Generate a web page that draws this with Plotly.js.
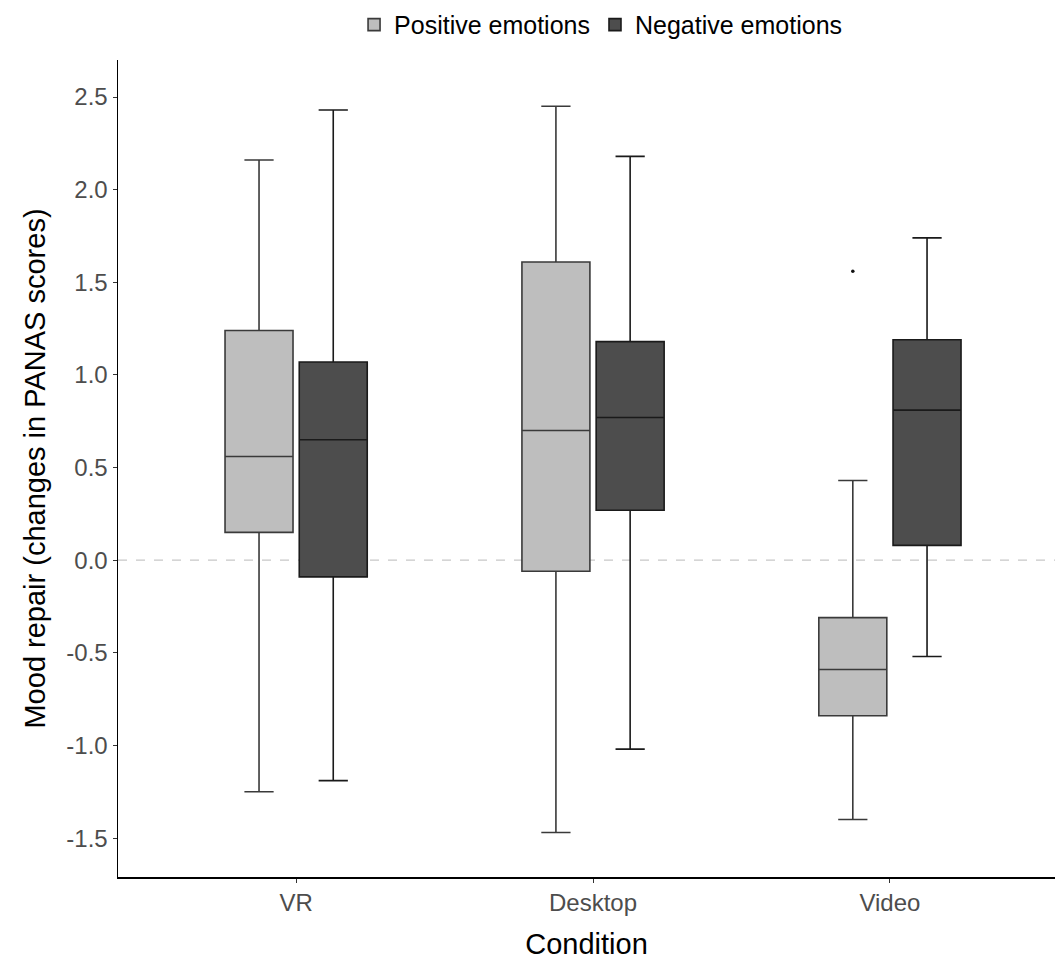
<!DOCTYPE html>
<html>
<head>
<meta charset="utf-8">
<script src="https://cdn.plot.ly/plotly-3.0.1.min.js"></script>
<style>html,body{margin:0;padding:0;background:#fff;}#chart{width:1055px;height:961px;}</style>
</head>
<body>
<div id="chart"></div>
<script>
const categories = ['VR', 'Desktop', 'Video'];
const seriesNames = ['Positive emotions', 'Negative emotions'];

const posQ1 = [0.15, -0.06, -0.84];
const posMedian = [0.56, 0.70, -0.59];
const posQ3 = [1.24, 1.61, -0.31];
const posLower = [-1.25, -1.47, -1.40];
const posUpper = [2.16, 2.45, 0.43];
// outliers of the positive series: category and value
const posOutlierCat = ['Video'];
const posOutlierVal = [1.56];

const negQ1 = [-0.09, 0.27, 0.08];
const negMedian = [0.65, 0.77, 0.81];
const negQ3 = [1.07, 1.18, 1.19];
const negLower = [-1.19, -1.02, -0.52];
const negUpper = [2.43, 2.18, 1.74];

const yTicks = [-1.5, -1.0, -0.5, 0.0, 0.5, 1.0, 1.5, 2.0, 2.5];
const yTickText = ['-1.5', '-1.0', '-0.5', '0.0', '0.5', '1.0', '1.5', '2.0', '2.5'];

const BOXGAP = 0.5;
const XRANGE = [-0.6, 2.556];

function boxTrace(name, q1, med, q3, lo, hi, fill, line) {
  return {
    type: 'box',
    name: name,
    x: categories,
    q1: q1, median: med, q3: q3,
    lowerfence: lo, upperfence: hi,
    boxpoints: false,
    fillcolor: fill,
    line: {color: line, width: 1.6},
    whiskerwidth: 0.43,
    hoverinfo: 'skip'
  };
}

// dodge offset for the first of two grouped boxes
const dodge = -(1 - BOXGAP) / 4;

const data = [
  boxTrace(seriesNames[0], posQ1, posMedian, posQ3, posLower, posUpper, '#BEBEBE', '#3a3a3a'),
  boxTrace(seriesNames[1], negQ1, negMedian, negQ3, negLower, negUpper, '#4D4D4D', '#1a1a1a'),
  {
    type: 'scatter', mode: 'markers', xaxis: 'x2',
    x: posOutlierCat.map(c => categories.indexOf(c) + dodge),
    y: posOutlierVal,
    marker: {color: '#111', size: 3.5},
    showlegend: false, hoverinfo: 'skip'
  }
];

const FAMILY = 'Liberation Sans, Arial, sans-serif';
const tickFont = {family: FAMILY, size: 24, color: '#4D4D4D'};
const titleFont = {family: FAMILY, size: 29, color: '#000'};

const layout = {
  width: 1055, height: 961,
  paper_bgcolor: '#fff', plot_bgcolor: '#fff',
  margin: {l: 118, r: 0, t: 60, b: 84},
  boxmode: 'group', boxgap: BOXGAP, boxgroupgap: 0.084,
  showlegend: true,
  legend: {
    orientation: 'h', x: 0.515, xanchor: 'center', y: 1.043, yanchor: 'middle',
    font: {family: FAMILY, size: 25, color: '#000'},
    itemwidth: 30, tracegroupgap: 0
  },
  xaxis: {
    type: 'category',
    range: XRANGE,
    showline: true, linecolor: '#000', linewidth: 1.5,
    ticks: 'outside', ticklen: 4, tickcolor: '#333', tickwidth: 1,
    tickfont: tickFont,
    showgrid: false, zeroline: false,
    title: {text: 'Condition', font: titleFont, standoff: 18}
  },
  xaxis2: {
    overlaying: 'x', range: XRANGE, visible: false, showgrid: false, zeroline: false
  },
  yaxis: {
    range: [-1.71, 2.70],
    tickvals: yTicks, ticktext: yTickText,
    showline: true, linecolor: '#000', linewidth: 1.5,
    ticks: 'outside', ticklen: 4, tickcolor: '#333', tickwidth: 1,
    tickfont: tickFont,
    showgrid: false, zeroline: false,
    title: {text: 'Mood repair (changes in PANAS scores)', font: titleFont, standoff: 12}
  },
  shapes: [{
    type: 'line', xref: 'paper', x0: 0, x1: 1, yref: 'y', y0: 0, y1: 0,
    line: {color: '#C8C8C8', width: 1.2, dash: 'dash'}, layer: 'below'
  }]
};

Plotly.newPlot('chart', data, layout, {displayModeBar: false, staticPlot: true});
</script>
</body>
</html>
